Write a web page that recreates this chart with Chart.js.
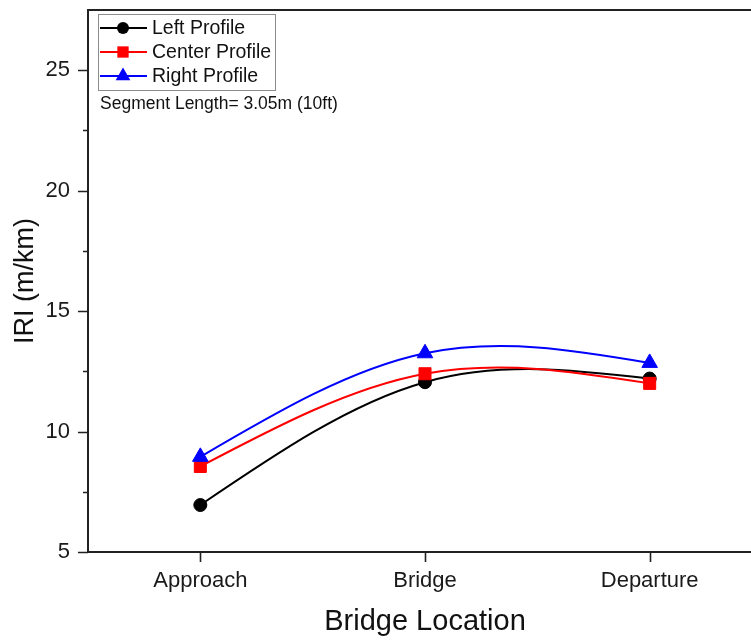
<!DOCTYPE html>
<html>
<head>
<meta charset="utf-8">
<title>IRI by Bridge Location</title>
<script src="https://cdn.jsdelivr.net/npm/chart.js@4.4.1/dist/chart.umd.min.js"></script>
<style>
  html, body { margin: 0; padding: 0; background: #fff; overflow: hidden; }
  #wrap { width: 775px; height: 640px; }
</style>
</head>
<body>
<div id="wrap"><canvas id="c" width="775" height="640"></canvas></div>
<script>
// Measured roughness per location (m/km)
const categories = ['Approach', 'Bridge', 'Departure'];
const leftProfile = [6.95, 12.05, 12.2];
const centerProfile = [8.55, 12.4, 12.0];
const rightProfile = [8.95, 13.25, 12.85];
const yTicks = [5, 10, 15, 20, 25];
const yMinorTicks = [7.5, 12.5, 17.5, 22.5];
const seriesNames = ['Left Profile', 'Center Profile', 'Right Profile'];
const noteText = 'Segment Length= 3.05m (10ft)';

const FONT = '"Liberation Sans", Arial, Helvetica, sans-serif';
const AXIS_COLOR = '#222';

function drawMarker(ctx, style, x, y, r, color) {
  ctx.save();
  ctx.fillStyle = color;
  ctx.beginPath();
  if (style === 'circle') {
    ctx.arc(x, y, r, 0, Math.PI * 2);
  } else if (style === 'rect') {
    const s = r * Math.SQRT1_2;
    ctx.rect(x - s, y - s, 2 * s, 2 * s);
  } else if (style === 'triangle') {
    for (let i = 0; i < 3; i++) {
      const a = i * 2 * Math.PI / 3;
      const px = x + Math.sin(a) * r, py = y - Math.cos(a) * r;
      if (i === 0) ctx.moveTo(px, py); else ctx.lineTo(px, py);
    }
    ctx.closePath();
  }
  ctx.fill();
  ctx.restore();
}

// Natural cubic spline: replace the bezier control points of each line
// so the curve passes smoothly through the points with zero end curvature.
const naturalSplinePlugin = {
  id: 'naturalSpline',
  beforeDatasetDraw(chart, args) {
    const meta = args.meta;
    const line = meta.dataset;
    if (!line) return;
    line.updateControlPoints(chart.chartArea, meta.iScale.axis);
    const pts = meta.data;
    const n = pts.length;
    if (n < 3) return;
    const x = pts.map(p => p.x), y = pts.map(p => p.y);
    const h = [];
    for (let i = 0; i < n - 1; i++) h.push(x[i + 1] - x[i]);
    // tridiagonal system for second derivatives M (M0 = Mn-1 = 0)
    const M = new Array(n).fill(0);
    const a = [], b = [], c = [], d = [];
    for (let i = 1; i < n - 1; i++) {
      a.push(h[i - 1]);
      b.push(2 * (h[i - 1] + h[i]));
      c.push(h[i]);
      d.push(6 * ((y[i + 1] - y[i]) / h[i] - (y[i] - y[i - 1]) / h[i - 1]));
    }
    const m = b.length;
    for (let i = 1; i < m; i++) {
      const w = a[i] / b[i - 1];
      b[i] -= w * c[i - 1];
      d[i] -= w * d[i - 1];
    }
    const sol = new Array(m);
    sol[m - 1] = d[m - 1] / b[m - 1];
    for (let i = m - 2; i >= 0; i--) sol[i] = (d[i] - c[i] * sol[i + 1]) / b[i];
    for (let i = 0; i < m; i++) M[i + 1] = sol[i];
    for (let i = 0; i < n - 1; i++) {
      const s = (y[i + 1] - y[i]) / h[i];
      const d0 = s - h[i] * (2 * M[i] + M[i + 1]) / 6;
      const d1 = s + h[i] * (M[i] + 2 * M[i + 1]) / 6;
      pts[i].cp2x = x[i] + h[i] / 3;
      pts[i].cp2y = y[i] + d0 * h[i] / 3;
      pts[i + 1].cp1x = x[i + 1] - h[i] / 3;
      pts[i + 1].cp1y = y[i + 1] - d1 * h[i] / 3;
    }
    pts[0].cp1x = x[0]; pts[0].cp1y = y[0];
    pts[n - 1].cp2x = x[n - 1]; pts[n - 1].cp2y = y[n - 1];
    line._path = undefined;
  }
};

// Frame: top border and tick marks (major + minor)
const framePlugin = {
  id: 'frame',
  afterDraw(chart) {
    const {ctx, chartArea: ca, scales} = chart;
    ctx.save();
    ctx.strokeStyle = AXIS_COLOR;
    ctx.lineWidth = 2;
    ctx.beginPath();
    ctx.moveTo(ca.left - 1, ca.top);
    ctx.lineTo(ca.right + 1, ca.top);
    ctx.stroke();
    ctx.lineWidth = 1.6;
    ctx.beginPath();
    yTicks.forEach(v => {
      const py = Math.round(scales.y.getPixelForValue(v)) + 0.5;
      ctx.moveTo(ca.left - 10, py); ctx.lineTo(ca.left, py);
    });
    yMinorTicks.forEach(v => {
      const py = Math.round(scales.y.getPixelForValue(v)) + 0.5;
      ctx.moveTo(ca.left - 5, py); ctx.lineTo(ca.left, py);
    });
    categories.forEach((c, i) => {
      const px = Math.round(scales.x.getPixelForValue(i)) + 0.5;
      ctx.moveTo(px, ca.bottom); ctx.lineTo(px, ca.bottom + 10);
    });
    ctx.stroke();
    ctx.restore();
  }
};

// In-plot legend box with a note underneath
const legendBoxPlugin = {
  id: 'legendBox',
  afterDraw(chart) {
    const {ctx, chartArea: ca} = chart;
    const bx = ca.left + 10, by = ca.top + 4, bw = 177, bh = 76;
    ctx.save();
    ctx.strokeStyle = '#8c8c8c';
    ctx.lineWidth = 1;
    ctx.strokeRect(bx + 0.5, by + 0.5, bw, bh);
    const sizes = {circle: 6, rect: 8, triangle: 8.5};
    chart.data.datasets.forEach((ds, i) => {
      const y = by + 14 + i * 24;
      ctx.strokeStyle = ds.borderColor;
      ctx.lineWidth = 2;
      ctx.beginPath();
      ctx.moveTo(bx + 2, y); ctx.lineTo(bx + 49, y);
      ctx.stroke();
      drawMarker(ctx, ds.pointStyle, bx + 25, y, sizes[ds.pointStyle], ds.borderColor);
      ctx.fillStyle = '#111';
      ctx.font = '19.5px ' + FONT;
      ctx.textBaseline = 'middle';
      ctx.textAlign = 'left';
      ctx.fillText(seriesNames[i], bx + 54, y + 1);
    });
    ctx.font = '17.5px ' + FONT;
    ctx.fillStyle = '#111';
    ctx.textBaseline = 'middle';
    ctx.fillText(noteText, bx + 2, by + 90);
    ctx.restore();
  }
};

function series(label, data, color, style, radius, order) {
  return {
    label: label,
    data: data,
    borderColor: color,
    backgroundColor: color,
    pointBackgroundColor: color,
    pointBorderColor: color,
    pointBorderWidth: 1,
    pointStyle: style,
    pointRadius: radius,
    borderWidth: 2,
    tension: 0.5,
    fill: false,
    order: order
  };
}

new Chart(document.getElementById('c'), {
  type: 'line',
  data: {
    labels: categories,
    datasets: [
      series(seriesNames[0], leftProfile, '#000000', 'circle', 6.5, 3),
      series(seriesNames[1], centerProfile, '#ff0000', 'rect', 8.5, 2),
      series(seriesNames[2], rightProfile, '#0000ff', 'triangle', 9, 1)
    ]
  },
  options: {
    responsive: false,
    animation: false,
    devicePixelRatio: 1,
    layout: {padding: {left: 0, top: 10, right: 13, bottom: 0}},
    plugins: {legend: {display: false}, tooltip: {enabled: false}},
    scales: {
      x: {
        type: 'category',
        offset: true,
        grid: {display: false, drawTicks: false},
        border: {display: true, color: AXIS_COLOR, width: 2},
        ticks: {font: {family: FONT, size: 22}, color: '#1a1a1a', padding: 16, maxRotation: 0},
        title: {display: true, text: 'Bridge Location', font: {family: FONT, size: 29}, color: '#111', padding: {top: 0, bottom: 1}},
        afterFit(scale) { scale.height = 88; scale.paddingLeft = 0; scale.paddingRight = 0; }
      },
      y: {
        min: 5,
        max: 27.5,
        grid: {display: false, drawTicks: false},
        border: {display: true, color: AXIS_COLOR, width: 2},
        ticks: {font: {family: FONT, size: 22}, color: '#1a1a1a', padding: 18},
        afterBuildTicks(scale) { scale.ticks = yTicks.map(v => ({value: v})); },
        title: {display: true, text: 'IRI (m/km)', font: {family: FONT, size: 27}, color: '#111', padding: {top: 9, bottom: 0}},
        afterFit(scale) { scale.width = 88; scale.paddingTop = 0; scale.paddingBottom = 0; }
      }
    }
  },
  plugins: [naturalSplinePlugin, framePlugin, legendBoxPlugin]
});
</script>
</body>
</html>
